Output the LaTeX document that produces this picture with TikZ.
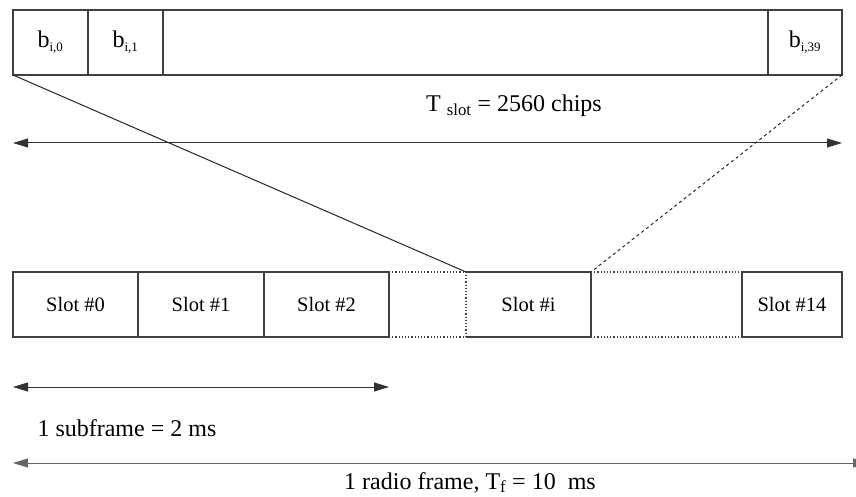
\documentclass[tikz,border=0pt]{standalone}
\usepackage{fontspec}
\setmainfont{Liberation Serif}
\usetikzlibrary{arrows.meta,calc}
\tikzset{
  >={Triangle[length=15pt,width=9pt]},
  box/.style={draw=black!75,line width=1.2pt,rectangle,anchor=north west,inner sep=0pt,outer sep=0pt,minimum height=65pt},
  lbl/.style={font=\fontsize{20.5}{24}\selectfont},
  txt/.style={font=\fontsize{24}{28}\selectfont,inner sep=0pt},
  span/.style={<->,line width=1pt,black!80},
  every picture/.style={line width=1pt},
}
\newcommand{\bsym}[1]{\fontsize{24}{26}\selectfont b\textsubscript{\fontsize{13}{13}\selectfont #1}}
\begin{document}
\begin{tikzpicture}[x=1pt,y=-1pt]
\useasboundingbox (0,0) rectangle (856,497);
% bits of one slot
\node[box,minimum width=75pt] (b0) at (13,10){\bsym{i,0}};
\node[box,minimum width=75pt] (b1) at (88,10){\bsym{i,1}};
\node[box,minimum width=605pt] (bmid) at (163,10){};
\node[box,minimum width=74pt] (b39) at (768,10){\bsym{i,39}};
% slot length
\coordinate (ta) at (13,143);
\coordinate (tb) at (842,143);
\draw[span] (ta) -- (tb);
\node[txt] (tslot) at (514,106){T \textsubscript{slot} = 2560 chips};
% slots of the frame
\node[box,minimum width=125pt,lbl] (s0) at (13,272){Slot \#0};
\node[box,minimum width=126pt,lbl] (s1) at (138,272){Slot \#1};
\node[box,minimum width=125pt,lbl] (s2) at (264,272){Slot \#2};
\node[box,draw=none,minimum width=125pt,lbl] (si) at (466,272){Slot \#i};
\node[box,minimum width=100pt,lbl] (s14) at (742,272){Slot \#14};
\draw[black!75,line width=1.2pt] (si.north west) -- (si.north east) -- (si.south east) -- (si.south west);
\draw[black!75,line width=1.2pt,dotted] (si.south west) -- (si.north west);
\draw[black!75,line width=1.2pt,dotted] (s2.north east) -- (si.north west);
\draw[black!75,line width=1.2pt,dotted] (s2.south east) -- (si.south west);
\draw[black!75,line width=1.2pt,dotted] (si.north east) -- (s14.north west);
\draw[black!75,line width=1.2pt,dotted] (si.south east) -- (s14.south west);
% zoom lines
\draw[black!85] (b0.south west) -- (si.north west);
\draw[black!85,dashed] (b39.south east) -- (si.north east);
% subframe and frame
\coordinate (sa) at (13,387);
\coordinate (sb) at (389,387);
\draw[span] (sa) -- (sb);
\node[txt,anchor=west] (sub) at (37,428){1 subframe = 2 ms};
\coordinate (fa) at (13,463);
\coordinate (fb) at (868,463);
\draw[span,black!60] (fa) -- (fb);
\node[txt] (frame) at (470,482.5){1 radio frame, T\textsubscript{f} = 10~ ms};
\end{tikzpicture}
\end{document}
